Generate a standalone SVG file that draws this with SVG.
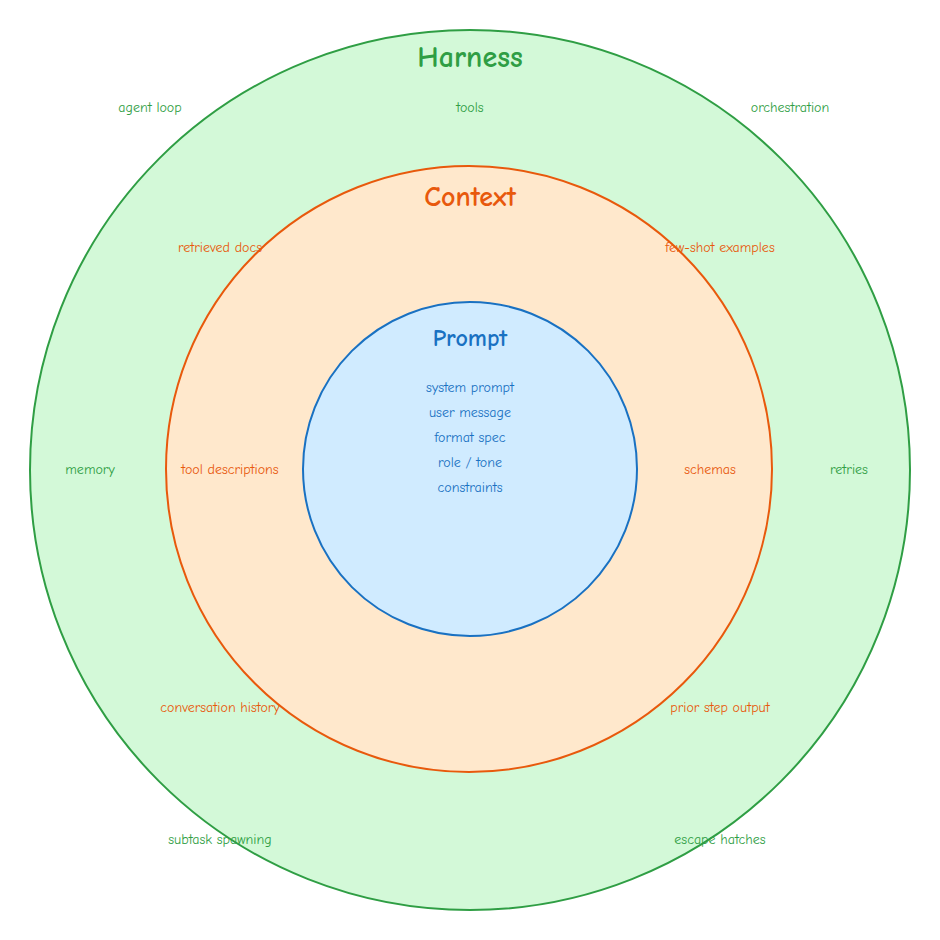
<svg xmlns="http://www.w3.org/2000/svg" width="940" height="940" viewBox="0 0 940 940">
<style>
text{font-family:"Comic Neue","Liberation Sans",sans-serif;text-anchor:middle;dominant-baseline:middle}
.g{fill:#2f9e44}.o{fill:#e8590c}.b{fill:#1971c2}
.s{font-size:14px}.t{font-weight:bold}
</style>
<rect width="940" height="940" fill="#ffffff"/>
<g id="harness">
<circle cx="470" cy="470" r="440" fill="#d3f9d8" stroke="#2f9e44" stroke-width="2"/>
<text x="470" y="60" class="g t" font-size="30">Harness</text>
<text x="150" y="109" class="g s">agent loop</text>
<text x="470" y="109" class="g s">tools</text>
<text x="790" y="109" class="g s">orchestration</text>
<text x="90" y="471" class="g s">memory</text>
<text x="849" y="471" class="g s">retries</text>
<text x="220" y="841" class="g s">subtask spawning</text>
<text x="720" y="841" class="g s">escape hatches</text>
</g>
<g id="context">
<circle cx="469" cy="469" r="303" fill="#ffe8cc" stroke="#e8590c" stroke-width="2"/>
<text x="470" y="199" class="o t" font-size="28">Context</text>
<text x="220" y="249" class="o s">retrieved docs</text>
<text x="720" y="249" class="o s">few-shot examples</text>
<text x="230" y="471" class="o s">tool descriptions</text>
<text x="710" y="471" class="o s">schemas</text>
<text x="220" y="709" class="o s">conversation history</text>
<text x="720" y="709" class="o s">prior step output</text>
</g>
<g id="prompt">
<circle cx="470" cy="469" r="167" fill="#d0ebff" stroke="#1971c2" stroke-width="2"/>
<text x="470" y="340" class="b t" font-size="24">Prompt</text>
<text x="470" y="389" class="b s">system prompt</text>
<text x="470" y="414" class="b s">user message</text>
<text x="470" y="439" class="b s">format spec</text>
<text x="470" y="464" class="b s">role / tone</text>
<text x="470" y="489" class="b s">constraints</text>
</g>
<g id="connectors"/>
</svg>
